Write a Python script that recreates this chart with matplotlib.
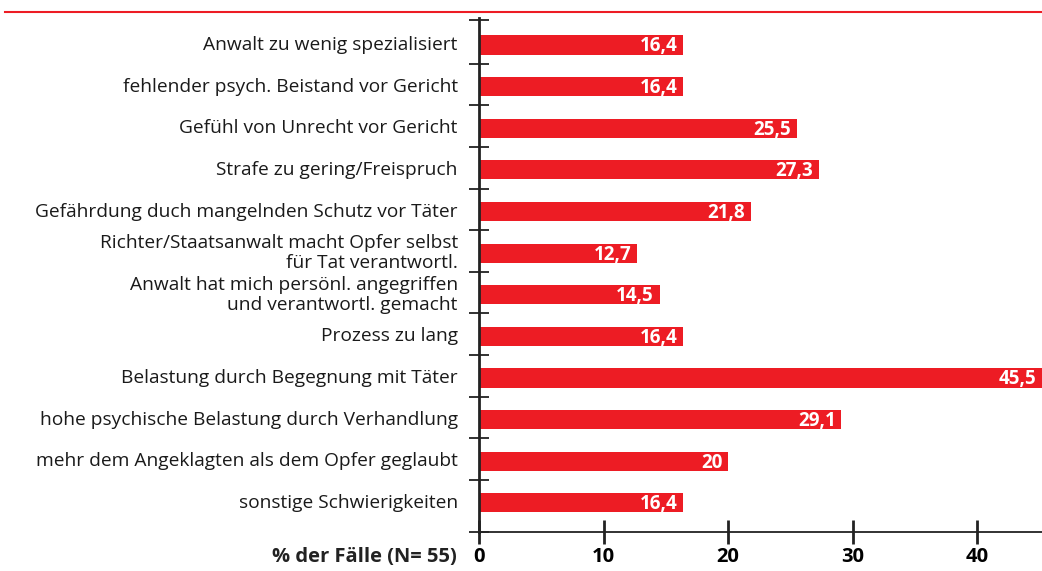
import matplotlib
matplotlib.use("Agg")
import matplotlib.pyplot as plt

# dataset
labels = [
    "Anwalt zu wenig spezialisiert",
    "fehlender psych. Beistand vor Gericht",
    "Gefühl von Unrecht vor Gericht",
    "Strafe zu gering/Freispruch",
    "Gefährdung duch mangelnden Schutz vor Täter",
    "Richter/Staatsanwalt macht Opfer selbst\nfür Tat verantwortl.",
    "Anwalt hat mich persönl. angegriffen\nund verantwortl. gemacht",
    "Prozess zu lang",
    "Belastung durch Begegnung mit Täter",
    "hohe psychische Belastung durch Verhandlung",
    "mehr dem Angeklagten als dem Opfer geglaubt",
    "sonstige Schwierigkeiten",
]
values = [16.4, 16.4, 25.5, 27.3, 21.8, 12.7, 14.5, 16.4, 45.5, 29.1, 20, 16.4]
value_text = ["16,4", "16,4", "25,5", "27,3", "21,8", "12,7", "14,5", "16,4", "45,5", "29,1", "20", "16,4"]
xticks = [0, 10, 20, 30, 40]

red = "#ED1C24"
plt.rcParams["font.family"] = ["Open Sans", "DejaVu Sans"]

fig = plt.figure(figsize=(10.42, 5.71), dpi=100)
ax = fig.add_axes([479 / 1042, 1 - 532 / 571, (1042 - 479) / 1042, (532 - 18) / 571])

ypos = list(range(len(values)))
ax.barh(ypos, values, height=0.46, color=red, zorder=2, clip_on=True)

# value labels inside bar ends
for i in range(len(values)):
    ax.annotate(value_text[i], xy=(min(values[i], 45.2), i), xytext=(-4, -1),
                textcoords="offset points", ha="right", va="center",
                color="white", fontsize=13.5, fontweight="bold", zorder=3)

ax.set_xlim(0, 45.2)
ax.set_ylim(11.7, -0.65)

# category labels
for i in range(len(labels)):
    ax.text(-1.7, i, labels[i], ha="right", va="center", fontsize=13.8,
            color="#1a1a1a", linespacing=1.15, transform=ax.transData)

ax.set_yticks([-0.6] + [i + 0.45 for i in range(11)] + [11.7])
ax.set_yticklabels([])
ax.tick_params(axis="y", direction="inout", length=14, width=1.3, color="#222222")

ax.set_xticks(xticks)
ax.set_xticklabels([str(t) for t in xticks], fontsize=14.5, fontweight="bold")
ax.tick_params(axis="x", direction="inout", length=17, width=2, color="#222222", pad=2)

for side in ["top", "right"]:
    ax.spines[side].set_visible(False)
ax.spines["left"].set_linewidth(2)
ax.spines["bottom"].set_linewidth(1.3)
ax.spines["left"].set_color("#222222")
ax.spines["bottom"].set_color("#222222")

fig.text(457 / 1042, 1 - 557 / 571, "% der Fälle (N= 55)", ha="right", va="center",
         fontsize=14.5, fontweight="bold", color="#222222")

# red rule across the top
fig.add_artist(plt.Line2D([5 / 1042, 1], [1 - 12 / 571, 1 - 12 / 571],
                          color=red, linewidth=1.5))

fig.savefig("out.png", dpi=100)
